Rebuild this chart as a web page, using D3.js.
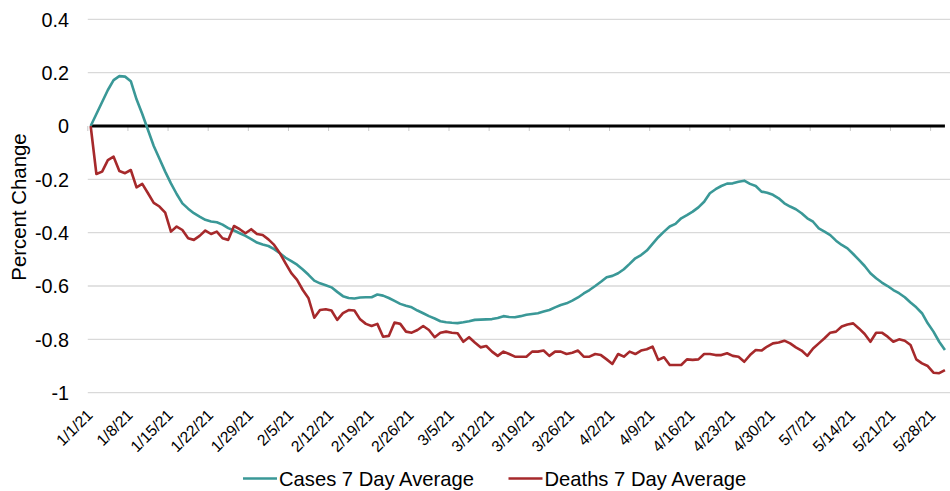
<!DOCTYPE html>
<html>
<head>
<meta charset="utf-8">
<script src="https://cdn.jsdelivr.net/npm/d3@7"></script>
<style>
  html, body { margin: 0; padding: 0; background: #fff; }
  svg { display: block; font-family: "Liberation Sans", Arial, Helvetica, sans-serif; }
</style>
</head>
<body>
<svg id="chart" width="950" height="491"></svg>
<script>
// ---- DATA ----
const startDay = new Date(2021, 0, 1);
const endDay = new Date(2021, 4, 31); // exclusive -> last day 5/30/21
const categories = d3.timeDay.range(startDay, endDay);

const casesAvg = [
  0, 0.045, 0.09, 0.135, 0.172, 0.187, 0.185, 0.168, 0.1, 0.045,
  -0.015, -0.075, -0.123, -0.171, -0.215, -0.255, -0.29, -0.31, -0.327, -0.34,
  -0.352, -0.358, -0.361, -0.37, -0.383, -0.392, -0.402, -0.412, -0.424, -0.437,
  -0.444, -0.45, -0.462, -0.477, -0.494, -0.507, -0.52, -0.538, -0.558, -0.58,
  -0.59, -0.597, -0.605, -0.622, -0.638, -0.645, -0.647, -0.643, -0.642, -0.642,
  -0.632, -0.636, -0.645, -0.656, -0.667, -0.674, -0.68, -0.692, -0.702, -0.713,
  -0.722, -0.732, -0.736, -0.738, -0.739, -0.736, -0.732, -0.727, -0.726, -0.725,
  -0.724, -0.72, -0.713, -0.716, -0.717, -0.713, -0.708, -0.705, -0.702, -0.696,
  -0.69, -0.68, -0.671, -0.665, -0.655, -0.643, -0.628, -0.615, -0.6, -0.584,
  -0.567, -0.562, -0.552, -0.537, -0.517, -0.496, -0.484, -0.467, -0.442, -0.417,
  -0.396, -0.377, -0.367, -0.346, -0.334, -0.321, -0.305, -0.284, -0.252, -0.237,
  -0.225, -0.216, -0.215, -0.209, -0.205, -0.217, -0.225, -0.246, -0.25, -0.258,
  -0.271, -0.29, -0.302, -0.312, -0.327, -0.346, -0.359, -0.384, -0.396, -0.409,
  -0.43, -0.446, -0.459, -0.48, -0.502, -0.525, -0.552, -0.571, -0.587, -0.6,
  -0.615, -0.627, -0.642, -0.662, -0.68, -0.702, -0.74, -0.771, -0.809, -0.84
];

const deathsAvg = [
  0, -0.18, -0.171, -0.128, -0.115, -0.169, -0.177, -0.165, -0.23, -0.217,
  -0.252, -0.288, -0.302, -0.325, -0.396, -0.377, -0.39, -0.421, -0.427, -0.412,
  -0.392, -0.405, -0.396, -0.421, -0.427, -0.375, -0.387, -0.402, -0.387, -0.405,
  -0.409, -0.425, -0.446, -0.477, -0.515, -0.552, -0.577, -0.615, -0.646, -0.719,
  -0.69, -0.687, -0.692, -0.727, -0.702, -0.69, -0.692, -0.725, -0.742, -0.75,
  -0.742, -0.79, -0.787, -0.737, -0.742, -0.771, -0.775, -0.765, -0.75, -0.765,
  -0.792, -0.775, -0.771, -0.775, -0.777, -0.809, -0.792, -0.812, -0.83, -0.825,
  -0.846, -0.862, -0.846, -0.855, -0.865, -0.865, -0.865, -0.846, -0.846, -0.842,
  -0.862, -0.846, -0.846, -0.855, -0.85, -0.842, -0.865, -0.865, -0.855, -0.859,
  -0.875, -0.892, -0.855, -0.865, -0.846, -0.855, -0.842, -0.837, -0.827, -0.877,
  -0.867, -0.896, -0.896, -0.896, -0.875, -0.877, -0.875, -0.855, -0.855, -0.859,
  -0.859, -0.852, -0.862, -0.865, -0.884, -0.859, -0.84, -0.842, -0.827, -0.815,
  -0.812, -0.805, -0.815, -0.83, -0.842, -0.862, -0.834, -0.815, -0.796, -0.775,
  -0.771, -0.752, -0.744, -0.74, -0.759, -0.78, -0.809, -0.775, -0.775, -0.79,
  -0.809, -0.8, -0.805, -0.821, -0.875, -0.89, -0.9, -0.925, -0.927, -0.915
];

const xTickLabels = [
  "1/1/21", "1/8/21", "1/15/21", "1/22/21", "1/29/21", "2/5/21", "2/12/21",
  "2/19/21", "2/26/21", "3/5/21", "3/12/21", "3/19/21", "3/26/21", "4/2/21",
  "4/9/21", "4/16/21", "4/23/21", "4/30/21", "5/7/21", "5/14/21", "5/21/21", "5/28/21"
];
const yTickValues = [0.4, 0.2, 0, -0.2, -0.4, -0.6, -0.8, -1];
const yTickLabels = ["0.4", "0.2", "0", "-0.2", "-0.4", "-0.6", "-0.8", "-1"];

const seriesNames = ["Cases 7 Day Average", "Deaths 7 Day Average"];
const seriesColors = ["#3a9897", "#a6292b"];
const yTitle = "Percent Change";

// ---- CHART ----
const svg = d3.select("#chart");
const fmt = d3.timeFormat("%-m/%-d/%y");
const catLabels = categories.map(fmt);

const x = d3.scaleBand()
  .domain(d3.range(categories.length))
  .range([87.8, 947.8])
  .paddingInner(0).paddingOuter(0);
const cx = i => x(i) + x.bandwidth() / 2;

const y = d3.scaleLinear().domain([-1, 0.4]).range([392.7, 19.3]);

// gridlines
svg.append("g").selectAll("line")
  .data(yTickValues.filter(v => v !== 0))
  .join("line")
  .attr("x1", x.range()[0]).attr("x2", 950)
  .attr("y1", d => y(d)).attr("y2", d => y(d))
  .attr("stroke", "#d9d9d9").attr("stroke-width", 1.3);

// y tick labels
svg.append("g").selectAll("text")
  .data(yTickValues)
  .join("text")
  .attr("x", 69).attr("y", d => y(d))
  .attr("dy", "0.37em")
  .attr("text-anchor", "end")
  .attr("font-size", "19.8px")
  .attr("fill", "#000")
  .text((d, i) => yTickLabels[i]);

// y title
svg.append("text")
  .attr("transform", `translate(26,${(y(-0.6) + y(0)) / 2 + 1}) rotate(-90)`)
  .attr("text-anchor", "middle")
  .attr("font-size", "20.4px")
  .text(yTitle);

// x tick marks at category boundaries (every 7 days)
const tickIdx = xTickLabels.map(l => catLabels.indexOf(l));
svg.append("g").selectAll("line")
  .data(tickIdx)
  .join("line")
  .attr("x1", d => x(d)).attr("x2", d => x(d))
  .attr("y1", y(0)).attr("y2", y(0) + 5)
  .attr("stroke", "#c8c8c8").attr("stroke-width", 1);

// x tick labels
svg.append("g").selectAll("text")
  .data(tickIdx)
  .join("text")
  .attr("transform", d => `translate(${cx(d) + 3},${416}) rotate(-45)`)
  .attr("text-anchor", "end")
  .attr("font-size", "15.7px")
  .attr("fill", "#000")
  .text((d, i) => xTickLabels[i]);

// zero line
svg.append("line")
  .attr("x1", cx(0)).attr("x2", cx(categories.length - 1))
  .attr("y1", y(0)).attr("y2", y(0))
  .attr("stroke", "#000").attr("stroke-width", 3.2);

// series
const line = d3.line().x((d, i) => cx(i)).y(d => y(d));
[casesAvg, deathsAvg].forEach((s, k) => {
  svg.append("path")
    .datum(s)
    .attr("d", line)
    .attr("fill", "none")
    .attr("stroke", seriesColors[k])
    .attr("stroke-width", 2.6)
    .attr("stroke-linejoin", "round");
});

// legend
const legendX = [243, 508.5];
const lg = svg.append("g");
seriesNames.forEach((n, k) => {
  lg.append("line")
    .attr("x1", legendX[k]).attr("x2", legendX[k] + 34)
    .attr("y1", 478.5).attr("y2", 478.5)
    .attr("stroke", seriesColors[k]).attr("stroke-width", 2.6);
  lg.append("text")
    .attr("x", legendX[k] + 36).attr("y", 478.5)
    .attr("dy", "0.36em")
    .attr("font-size", "20.2px")
    .text(n);
});
</script>
</body>
</html>
